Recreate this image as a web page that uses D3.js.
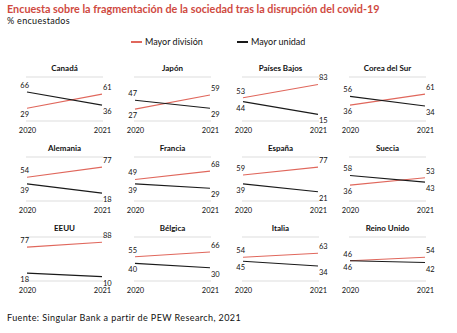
<!DOCTYPE html>
<html>
<head>
<meta charset="utf-8">
<script src="https://cdn.jsdelivr.net/npm/d3@7"></script>
<style>
  body { margin: 0; background: #fff; }
  svg { font-family: Lato, "Open Sans", sans-serif; }
</style>
</head>
<body>
<div class="chart"></div>
<script>
  // datos de la encuesta (% encuestados)
  var countries = ["Canadá", "Japón", "Países Bajos", "Corea del Sur",
                   "Alemania", "Francia", "España", "Suecia",
                   "EEUU", "Bélgica", "Italia", "Reino Unido"];
  var years = ["2020", "2021"];
  var division2020 = [29, 27, 53, 36, 54, 49, 59, 36, 77, 55, 54, 46];
  var division2021 = [61, 59, 83, 61, 77, 68, 77, 53, 88, 66, 63, 54];
  var unidad2020 = [66, 47, 44, 56, 39, 39, 39, 58, 18, 40, 45, 46];
  var unidad2021 = [36, 29, 15, 34, 18, 29, 21, 43, 10, 30, 34, 42];
  var seriesNames = ["Mayor división", "Mayor unidad"];

  var width = 457;
  var height = 333;
  var colors = ["#e0675c", "#1a1a1a"];

  var svg = d3.select('.chart')
    .append('svg')
    .attr('width', width)
    .attr('height', height);

  // titulo
  svg.append('text')
    .attr('x', 7).attr('y', 13)
    .attr('fill', '#cf4a3f')
    .attr('font-size', 10.8)
    .attr('font-weight', 'bold')
    .text('Encuesta sobre la fragmentación de la sociedad tras la disrupción del covid-19');

  svg.append('text')
    .attr('x', 7).attr('y', 24)
    .attr('font-size', 9)
    .attr('letter-spacing', 0.3)
    .attr('fill', '#111')
    .text('% encuestados');

  // leyenda
  var legendX = [131, 237];
  var legend = svg.selectAll('.legend')
    .data(seriesNames)
    .enter()
    .append('g')
    .attr('class', 'legend')
    .attr('transform', function(d, i) { return 'translate(' + legendX[i] + ',42)'; });

  legend.append('line')
    .attr('x1', 0).attr('x2', 11)
    .attr('stroke', function(d, i) { return colors[i]; })
    .attr('stroke-width', 2);

  legend.append('text')
    .attr('x', 14).attr('y', 3)
    .attr('font-size', 9)
    .attr('fill', '#111')
    .text(function(d) { return d; });

  // paneles
  var colLeft = [27, 135, 243, 350];
  var panelW = 75;
  var rowTop = [77, 157, 237];
  var panelH = 44;

  var panels = countries.map(function(c, i) {
    return {
      name: c,
      division: [division2020[i], division2021[i]],
      unidad: [unidad2020[i], unidad2021[i]],
      col: i % 4,
      row: Math.floor(i / 4)
    };
  });

  panels.forEach(function(p) {
    var x0 = colLeft[p.col];
    var top = rowTop[p.row];

    var x = d3.scalePoint().domain(years).range([x0, x0 + panelW]);
    var y = d3.scaleLinear().domain([0, 100]).range([top + panelH, top]);

    var g = svg.append('g');

    g.append('text')
      .attr('x', x0 + panelW / 2)
      .attr('y', top - 6)
      .attr('text-anchor', 'middle')
      .attr('font-size', 8)
      .attr('font-weight', 'bold')
      .attr('fill', '#111')
      .text(p.name);

    // lineas grises de referencia
    g.selectAll('.grid')
      .data([0, 100])
      .enter()
      .append('line')
      .attr('x1', x0 - 1).attr('x2', x0 + panelW + 1)
      .attr('y1', function(d) { return y(d); })
      .attr('y2', function(d) { return y(d); })
      .attr('stroke', '#e8e8e8')
      .attr('stroke-width', 1.5);

    // eje de años
    var axis = g.append('g')
      .attr('transform', 'translate(0,' + (top + panelH + 5) + ')')
      .call(d3.axisBottom(x).tickSize(0).tickPadding(2));
    axis.select('.domain').remove();
    axis.selectAll('text')
      .attr('font-family', 'Lato, "Open Sans", sans-serif')
      .attr('font-size', 7.5)
      .attr('fill', '#111');

    var series = [p.division, p.unidad];
    var line = d3.line()
      .x(function(d, i) { return x(years[i]); })
      .y(function(d) { return y(d); });

    g.selectAll('.serie')
      .data(series)
      .enter()
      .append('path')
      .attr('d', line)
      .attr('fill', 'none')
      .attr('stroke', function(d, i) { return colors[i]; })
      .attr('stroke-width', 1.1);

    // etiquetas de valores
    series.forEach(function(s, si) {
      var other = series[1 - si];
      s.forEach(function(v, yi) {
        var above = v > other[yi] || (v === other[yi] && si === 0);
        g.append('text')
          .attr('x', yi === 0 ? x(years[0]) + 2 : x(years[1]) + 1)
          .attr('y', y(v) + (above ? -4 : 9))
          .attr('text-anchor', yi === 0 ? 'end' : 'start')
          .attr('font-size', 7.5)
          .attr('fill', '#111')
          .text(v);
      });
    });
  });

  svg.append('text')
    .attr('x', 7).attr('y', 321)
    .attr('font-size', 9)
    .attr('letter-spacing', 0.4)
    .attr('fill', '#111')
    .text('Fuente: Singular Bank a partir de PEW Research, 2021');
</script>
</body>
</html>
